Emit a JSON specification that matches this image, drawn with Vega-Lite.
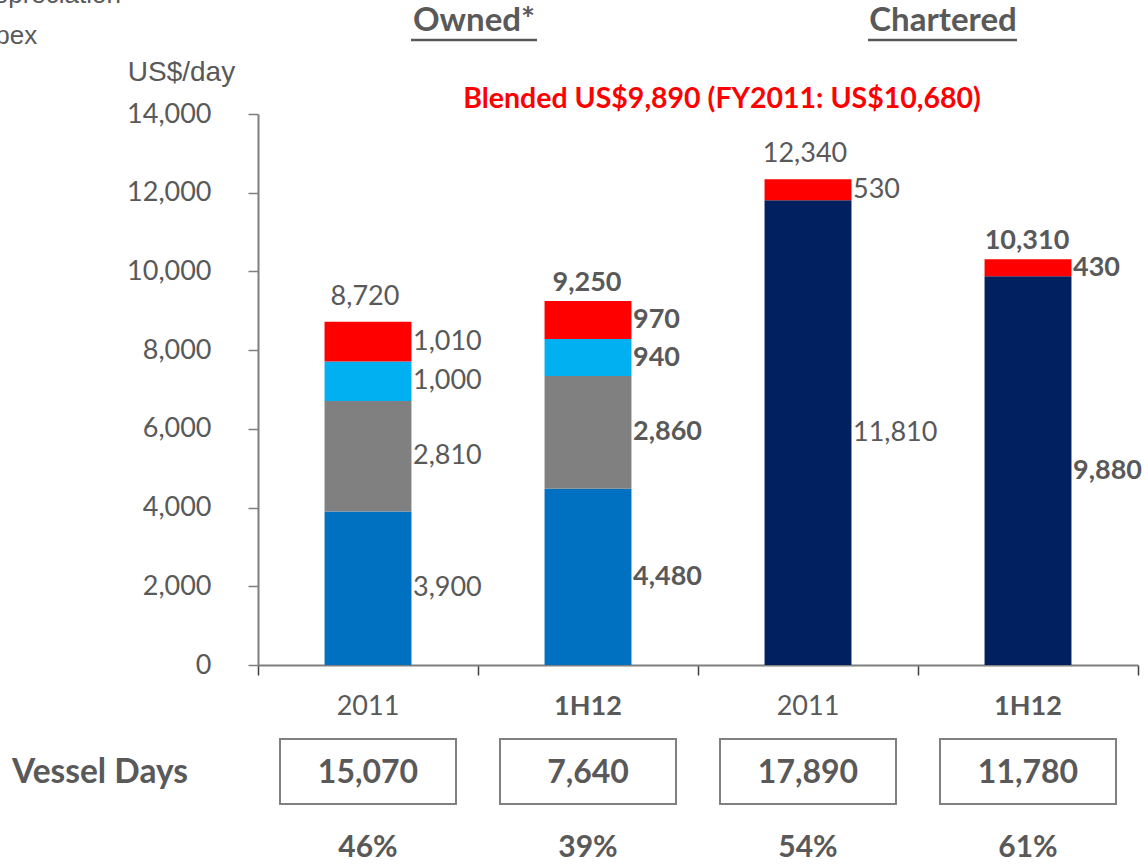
{
  "$schema": "https://vega.github.io/schema/vega-lite/v6.json",
  "width": 880,
  "height": 551,
  "autosize": {"type": "none"},
  "padding": {"left": 258, "top": 114, "right": 10, "bottom": 200},
  "background": "white",
  "config": {
    "view": {"stroke": null},
    "font": "Lato"
  },
  "datasets": {
    "costs2011": [
      {"bar": "Owned 2011", "fleet": "Owned", "period": "2011", "component": "Opex", "level": 1, "value": 3900},
      {"bar": "Owned 2011", "fleet": "Owned", "period": "2011", "component": "Depreciation", "level": 2, "value": 2810},
      {"bar": "Owned 2011", "fleet": "Owned", "period": "2011", "component": "Finance cost", "level": 3, "value": 1000},
      {"bar": "Owned 2011", "fleet": "Owned", "period": "2011", "component": "Overheads", "level": 4, "value": 1010},
      {"bar": "Chartered 2011", "fleet": "Chartered", "period": "2011", "component": "Charter hire", "level": 1, "value": 11810},
      {"bar": "Chartered 2011", "fleet": "Chartered", "period": "2011", "component": "Overheads", "level": 2, "value": 530}
    ],
    "costs1H12": [
      {"bar": "Owned 1H12", "fleet": "Owned", "period": "1H12", "component": "Opex", "level": 1, "value": 4480},
      {"bar": "Owned 1H12", "fleet": "Owned", "period": "1H12", "component": "Depreciation", "level": 2, "value": 2860},
      {"bar": "Owned 1H12", "fleet": "Owned", "period": "1H12", "component": "Finance cost", "level": 3, "value": 940},
      {"bar": "Owned 1H12", "fleet": "Owned", "period": "1H12", "component": "Overheads", "level": 4, "value": 970},
      {"bar": "Chartered 1H12", "fleet": "Chartered", "period": "1H12", "component": "Charter hire", "level": 1, "value": 9880},
      {"bar": "Chartered 1H12", "fleet": "Chartered", "period": "1H12", "component": "Overheads", "level": 2, "value": 430}
    ],
    "bars2011": [
      {"bar": "Owned 2011", "period": "2011", "total": 8720, "vesselDays": 15070, "share": 0.46},
      {"bar": "Chartered 2011", "period": "2011", "total": 12340, "vesselDays": 17890, "share": 0.54}
    ],
    "bars1H12": [
      {"bar": "Owned 1H12", "period": "1H12", "total": 9250, "vesselDays": 7640, "share": 0.39},
      {"bar": "Chartered 1H12", "period": "1H12", "total": 10310, "vesselDays": 11780, "share": 0.61}
    ]
  },
  "layer": [
    {
      "data": {"name": "costs2011"},
      "transform": [
        {"stack": "value", "groupby": ["bar"], "sort": [{"field": "level", "order": "ascending"}], "as": ["v0", "v1"]}
      ],
      "mark": {"type": "bar", "width": {"band": 0.395}},
      "encoding": {
        "x": {
          "field": "bar", "type": "nominal",
          "scale": {"domain": ["Owned 2011", "Owned 1H12", "Chartered 2011", "Chartered 1H12"], "paddingInner": 0, "paddingOuter": 0},
          "axis": {
            "title": null,
            "labels": false,
            "domainColor": "#7f7f7f", "domainWidth": 2,
            "tickColor": "#3f3f3f", "tickWidth": 1.5, "tickSize": 10, "tickBand": "extent",
            "grid": false
          }
        },
        "y": {
          "field": "v0", "type": "quantitative",
          "scale": {"domain": [0, 14000], "nice": false},
          "axis": {
            "title": "US$/day",
            "titleFont": "Liberation Sans", "titleFontSize": 28, "titleFontWeight": "normal", "titleColor": "#595959",
            "titleAngle": 0, "titleAlign": "center", "titleBaseline": "alphabetic", "titleX": -77, "titleY": -34,
            "values": [0, 2000, 4000, 6000, 8000, 10000, 12000, 14000],
            "format": ",.0f",
            "grid": false,
            "domainColor": "#7f7f7f", "domainWidth": 2,
            "tickColor": "#7f7f7f", "tickWidth": 1.5, "tickSize": 10,
            "labelFont": "Lato", "labelFontSize": 27, "labelColor": "#595959", "labelPadding": 37
          }
        },
        "y2": {"field": "v1"},
        "color": {
          "field": "component", "type": "nominal",
          "scale": {
            "domain": ["Charter hire", "Overheads", "Finance cost", "Depreciation", "Opex"],
            "range": ["#002060", "#FF0000", "#00B0F0", "#808080", "#0070C0"]
          },
          "legend": {
            "title": null,
            "orient": "none", "legendX": -315, "legendY": -255,
            "padding": 0,
            "symbolType": "square", "symbolSize": 100, "labelOffset": 6,
            "rowPadding": 15,
            "labelFont": "Liberation Sans", "labelFontSize": 26, "labelColor": "#595959", "labelLimit": 400
          }
        }
      }
    },
    {
      "data": {"name": "costs1H12"},
      "transform": [
        {"stack": "value", "groupby": ["bar"], "sort": [{"field": "level", "order": "ascending"}], "as": ["v0", "v1"]}
      ],
      "mark": {"type": "bar", "width": {"band": 0.395}},
      "encoding": {
        "x": {"field": "bar", "type": "nominal"},
        "y": {"field": "v0", "type": "quantitative"},
        "y2": {"field": "v1"},
        "color": {"field": "component", "type": "nominal"}
      }
    },
    {
      "data": {"name": "costs2011"},
      "transform": [
        {"stack": "value", "groupby": ["bar"], "sort": [{"field": "level", "order": "ascending"}], "as": ["v0", "v1"]},
        {"calculate": "(datum.v0 + datum.v1) / 2", "as": "mid"}
      ],
      "mark": {"type": "text", "align": "left", "baseline": "middle", "dx": 45, "fontSize": 27, "color": "#595959"},
      "encoding": {
        "x": {"field": "bar", "type": "nominal"},
        "y": {"field": "mid", "type": "quantitative"},
        "text": {"field": "value", "type": "quantitative", "format": ","}
      }
    },
    {
      "data": {"name": "costs1H12"},
      "transform": [
        {"stack": "value", "groupby": ["bar"], "sort": [{"field": "level", "order": "ascending"}], "as": ["v0", "v1"]},
        {"calculate": "(datum.v0 + datum.v1) / 2", "as": "mid"}
      ],
      "mark": {"type": "text", "align": "left", "baseline": "middle", "dx": 45, "fontSize": 27, "fontWeight": "bold", "color": "#595959"},
      "encoding": {
        "x": {"field": "bar", "type": "nominal"},
        "y": {"field": "mid", "type": "quantitative"},
        "text": {"field": "value", "type": "quantitative", "format": ","}
      }
    },
    {
      "data": {"name": "bars2011"},
      "mark": {"type": "text", "align": "center", "baseline": "alphabetic", "dx": -3, "dy": -17, "fontSize": 27, "color": "#595959"},
      "encoding": {
        "x": {"field": "bar", "type": "nominal"},
        "y": {"field": "total", "type": "quantitative"},
        "text": {"field": "total", "type": "quantitative", "format": ","}
      }
    },
    {
      "data": {"name": "bars1H12"},
      "mark": {"type": "text", "align": "center", "baseline": "alphabetic", "dx": -1, "dy": -10, "fontSize": 27, "fontWeight": "bold", "color": "#595959"},
      "encoding": {
        "x": {"field": "bar", "type": "nominal"},
        "y": {"field": "total", "type": "quantitative"},
        "text": {"field": "total", "type": "quantitative", "format": ","}
      }
    },
    {
      "data": {"name": "bars2011"},
      "mark": {"type": "text", "align": "center", "baseline": "middle", "dy": 317, "fontSize": 27, "color": "#595959"},
      "encoding": {
        "x": {"field": "bar", "type": "nominal"},
        "text": {"field": "period", "type": "nominal"}
      }
    },
    {
      "data": {"name": "bars1H12"},
      "mark": {"type": "text", "align": "center", "baseline": "middle", "dy": 317, "fontSize": 27, "fontWeight": "bold", "color": "#595959"},
      "encoding": {
        "x": {"field": "bar", "type": "nominal"},
        "text": {"field": "period", "type": "nominal"}
      }
    },
    {
      "data": {"name": "bars2011"},
      "mark": {"type": "point", "shape": "M-1,-0.369H1V0.369H-1Z", "size": 30976, "filled": false, "stroke": "#808080", "strokeWidth": 2, "opacity": 1, "yOffset": 382},
      "encoding": {"x": {"field": "bar", "type": "nominal"}}
    },
    {
      "data": {"name": "bars1H12"},
      "mark": {"type": "point", "shape": "M-1,-0.369H1V0.369H-1Z", "size": 30976, "filled": false, "stroke": "#808080", "strokeWidth": 2, "opacity": 1, "yOffset": 382},
      "encoding": {"x": {"field": "bar", "type": "nominal"}}
    },
    {
      "data": {"name": "bars2011"},
      "mark": {"type": "text", "align": "center", "baseline": "middle", "dy": 383.5, "fontSize": 32, "fontWeight": "bold", "color": "#595959"},
      "encoding": {
        "x": {"field": "bar", "type": "nominal"},
        "text": {"field": "vesselDays", "type": "quantitative", "format": ","}
      }
    },
    {
      "data": {"name": "bars1H12"},
      "mark": {"type": "text", "align": "center", "baseline": "middle", "dy": 383.5, "fontSize": 32, "fontWeight": "bold", "color": "#595959"},
      "encoding": {
        "x": {"field": "bar", "type": "nominal"},
        "text": {"field": "vesselDays", "type": "quantitative", "format": ","}
      }
    },
    {
      "data": {"name": "bars2011"},
      "mark": {"type": "text", "align": "center", "baseline": "middle", "dy": 458, "fontSize": 30, "fontWeight": "bold", "color": "#595959"},
      "encoding": {
        "x": {"field": "bar", "type": "nominal"},
        "text": {"field": "share", "type": "quantitative", "format": ".0%"}
      }
    },
    {
      "data": {"name": "bars1H12"},
      "mark": {"type": "text", "align": "center", "baseline": "middle", "dy": 458, "fontSize": 30, "fontWeight": "bold", "color": "#595959"},
      "encoding": {
        "x": {"field": "bar", "type": "nominal"},
        "text": {"field": "share", "type": "quantitative", "format": ".0%"}
      }
    },
    {
      "data": {"values": [{"label": "Vessel Days"}]},
      "mark": {"type": "text", "align": "center", "baseline": "middle", "dx": -598, "dy": 383.5, "fontSize": 33.5, "fontWeight": "bold", "color": "#595959"},
      "encoding": {"text": {"field": "label"}}
    },
    {
      "data": {"values": [{"label": "Owned*"}]},
      "mark": {"type": "text", "align": "center", "baseline": "alphabetic", "dx": -224, "dy": -358.5, "fontSize": 33, "fontWeight": "bold", "color": "#595959"},
      "encoding": {"text": {"field": "label"}}
    },
    {
      "data": {"values": [{"label": "Chartered"}]},
      "mark": {"type": "text", "align": "center", "baseline": "alphabetic", "dx": 245, "dy": -358.5, "fontSize": 33, "fontWeight": "bold", "color": "#595959"},
      "encoding": {"text": {"field": "label"}}
    },
    {
      "data": {"values": [{"label": "Owned*"}]},
      "mark": {"type": "point", "shape": "M-1,0H1", "size": 15876, "filled": false, "stroke": "#595959", "strokeWidth": 2.5, "opacity": 1, "xOffset": -224, "yOffset": -349.5},
      "encoding": {}
    },
    {
      "data": {"values": [{"label": "Chartered"}]},
      "mark": {"type": "point", "shape": "M-1,0H1", "size": 22201, "filled": false, "stroke": "#595959", "strokeWidth": 2.5, "opacity": 1, "xOffset": 244.5, "yOffset": -349.5},
      "encoding": {}
    },
    {
      "data": {"values": [{"label": "Blended US$9,890 (FY2011: US$10,680)"}]},
      "mark": {"type": "text", "align": "center", "baseline": "alphabetic", "dx": 24, "dy": -281.5, "fontSize": 28.5, "fontWeight": "bold", "color": "#FF0000"},
      "encoding": {"text": {"field": "label"}}
    }
  ]
}
